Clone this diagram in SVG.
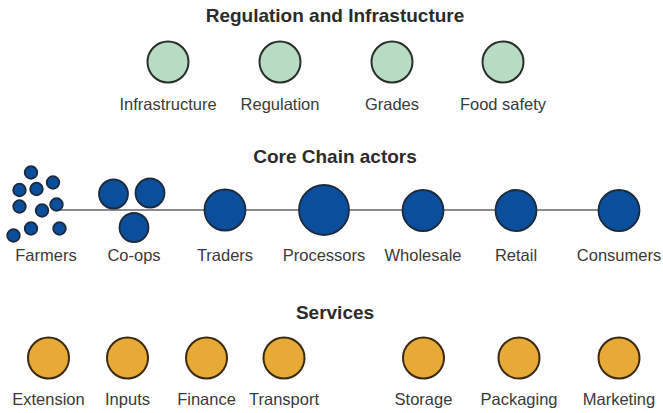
<svg xmlns="http://www.w3.org/2000/svg" width="663" height="413" viewBox="0 0 663 413">
<style>
.title{font-family:"Liberation Sans",Arial,sans-serif;font-weight:bold;font-size:19px;fill:#2b2b2b;text-anchor:middle}
.lbl{font-family:"Liberation Sans",Arial,sans-serif;font-size:16.5px;fill:#3a3a3a;text-anchor:middle}
.g{fill:#b8dcc3;stroke:#2a2f2c;stroke-width:2}
.b{fill:#0b4f9c;stroke:#1c2a3c;stroke-width:1.8}
.o{fill:#e8aa36;stroke:#3a2a12;stroke-width:2}
.conn{stroke:#666;stroke-width:1.3;fill:none}
</style>
<rect width="663" height="413" fill="#fff"/>
<text class="title" x="335" y="22">Regulation and Infrastucture</text>
<text class="title" x="335" y="163">Core Chain actors</text>
<text class="title" x="335" y="319">Services</text>
<g id="connectors">
<line class="conn" x1="57" y1="210" x2="620" y2="210"/>
</g>
<g id="infrastructure"><circle class="g" cx="168" cy="62" r="20.5"/><text class="lbl" x="168" y="110">Infrastructure</text></g>
<g id="regulation"><circle class="g" cx="280" cy="62" r="20.5"/><text class="lbl" x="280" y="110">Regulation</text></g>
<g id="grades"><circle class="g" cx="392" cy="62" r="20.5"/><text class="lbl" x="392" y="110">Grades</text></g>
<g id="food-safety"><circle class="g" cx="503" cy="62" r="20.5"/><text class="lbl" x="503" y="110">Food safety</text></g>
<g id="farmers">
<circle class="b" cx="31" cy="172.5" r="6.3"/>
<circle class="b" cx="53" cy="182.5" r="6.3"/>
<circle class="b" cx="19.5" cy="190" r="6.3"/>
<circle class="b" cx="36.5" cy="189" r="6.3"/>
<circle class="b" cx="19.5" cy="206.5" r="6.3"/>
<circle class="b" cx="42" cy="210.5" r="6.3"/>
<circle class="b" cx="56.5" cy="204.5" r="6.3"/>
<circle class="b" cx="31" cy="228.5" r="6.3"/>
<circle class="b" cx="59.5" cy="228.5" r="6.3"/>
<circle class="b" cx="13.5" cy="235.5" r="6.3"/>
<text class="lbl" x="46" y="261">Farmers</text>
</g>
<g id="co-ops">
<circle class="b" cx="113.5" cy="194" r="14.5"/>
<circle class="b" cx="150" cy="193" r="14.5"/>
<circle class="b" cx="134" cy="227.5" r="14.5"/>
<text class="lbl" x="134" y="261">Co-ops</text>
</g>
<g id="traders"><circle class="b" cx="225" cy="210" r="20.5"/><text class="lbl" x="225" y="261">Traders</text></g>
<g id="processors"><circle class="b" cx="324" cy="210" r="25"/><text class="lbl" x="324" y="261">Processors</text></g>
<g id="wholesale"><circle class="b" cx="423" cy="210.5" r="20.5"/><text class="lbl" x="423" y="261">Wholesale</text></g>
<g id="retail"><circle class="b" cx="516" cy="210.5" r="20.5"/><text class="lbl" x="516" y="261">Retail</text></g>
<g id="consumers"><circle class="b" cx="619" cy="210.5" r="20.5"/><text class="lbl" x="619" y="261">Consumers</text></g>
<g id="extension"><circle class="o" cx="48.5" cy="358" r="20.5"/><text class="lbl" x="48.5" y="405">Extension</text></g>
<g id="inputs"><circle class="o" cx="127.5" cy="358" r="20.5"/><text class="lbl" x="127.5" y="405">Inputs</text></g>
<g id="finance"><circle class="o" cx="206.5" cy="358" r="20.5"/><text class="lbl" x="206.5" y="405">Finance</text></g>
<g id="transport"><circle class="o" cx="284" cy="358" r="20.5"/><text class="lbl" x="284" y="405">Transport</text></g>
<g id="storage"><circle class="o" cx="423.5" cy="358" r="20.5"/><text class="lbl" x="423.5" y="405">Storage</text></g>
<g id="packaging"><circle class="o" cx="519" cy="358" r="20.5"/><text class="lbl" x="519" y="405">Packaging</text></g>
<g id="marketing"><circle class="o" cx="619" cy="358" r="20.5"/><text class="lbl" x="619" y="405">Marketing</text></g>
</svg>
